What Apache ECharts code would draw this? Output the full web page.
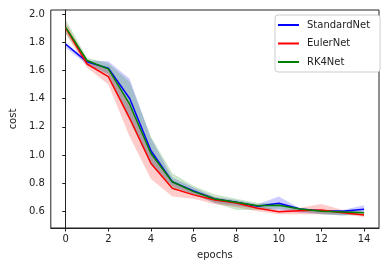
<!DOCTYPE html>
<html><head><meta charset="utf-8">
<script src="https://cdn.jsdelivr.net/npm/echarts@6/dist/echarts.min.js"></script>
<style>html,body{margin:0;padding:0;background:#fff}#c{width:389px;height:266px}</style>
</head><body><div id="c"></div>
<script>
const epochs = [0,1,2,3,4,5,6,7,8,9,10,11,12,13,14];
const xTicks = [0,2,4,6,8,10,12,14];
const yTicks = [0.6,0.8,1.0,1.2,1.4,1.6,1.8,2.0];

const stdMean = [1.785,1.66,1.615,1.40,1.03,0.81,0.745,0.688,0.665,0.637,0.658,0.617,0.605,0.60,0.615];
const stdLow  = [1.76,1.64,1.57,1.25,0.94,0.78,0.72,0.66,0.64,0.62,0.61,0.59,0.58,0.57,0.59];
const stdHigh = [1.80,1.67,1.665,1.54,1.12,0.84,0.77,0.70,0.68,0.65,0.705,0.62,0.61,0.61,0.644];

const eulMean = [1.90,1.645,1.555,1.26,0.94,0.764,0.717,0.68,0.66,0.622,0.598,0.605,0.61,0.59,0.575];
const eulLow  = [1.86,1.62,1.50,1.13,0.83,0.705,0.69,0.65,0.63,0.60,0.58,0.58,0.58,0.58,0.56];
const eulHigh = [1.94,1.67,1.60,1.36,1.02,0.81,0.75,0.70,0.67,0.64,0.61,0.625,0.653,0.61,0.59];

const rkMean = [1.905,1.67,1.61,1.36,1.01,0.81,0.74,0.688,0.665,0.64,0.644,0.617,0.60,0.595,0.59];
const rkLow  = [1.86,1.65,1.57,1.24,0.93,0.77,0.72,0.66,0.61,0.61,0.62,0.60,0.58,0.57,0.575];
const rkHigh = [1.96,1.69,1.65,1.52,1.13,0.87,0.78,0.72,0.69,0.66,0.66,0.62,0.61,0.61,0.60];

const names = ['StandardNet','EulerNet','RK4Net'];
const colors = ['#0000ff','#ff0000','#008000'];
const means = [stdMean, eulMean, rkMean];
const lows = [stdLow, eulLow, rkLow];
const highs = [stdHigh, eulHigh, rkHigh];

const series = [];
for (let k = 0; k < 3; k++) {
  const data = epochs.map((e,i)=>[e, lows[k][i], highs[k][i]]);
  series.push({
    type:'custom', silent:true, z:1, data: data,
    encode:{x:0, y:[1,2]},
    renderItem:(params, api)=>{
      if (params.dataIndex !== 0) return null;
      const up = data.map(d=>api.coord([d[0], d[2]]));
      const lo = data.map(d=>api.coord([d[0], d[1]])).reverse();
      return {type:'polygon', shape:{points: up.concat(lo)},
        style:{fill:colors[k], opacity:0.2}};
    }
  });
}
for (let k = 0; k < 3; k++) {
  series.push({
    name:names[k], type:'line', symbol:'none', z:5+k,
    lineStyle:{color:colors[k], width:1.5}, itemStyle:{color:colors[k]},
    data: epochs.map((e,i)=>[e, means[k][i]])
  });
}

const txt = '#222';
const chart = echarts.init(document.getElementById('c'), null, {renderer:'canvas'});
chart.setOption({
  animation:false,
  textStyle:{fontFamily:'DejaVu Sans'},
  grid:{left:44, right:10, top:10, bottom:38, show:true, borderColor:'#222', borderWidth:1},
  legend:{
    data:names, orient:'vertical', left:275, top:15, width:99,
    itemWidth:21, itemHeight:2, itemGap:8.5,
    icon:'rect',
    borderColor:'#ccc', borderWidth:1, borderRadius:3,
    padding:[5,10,5,3], backgroundColor:'#fff',
    textStyle:{fontSize:10, color:txt, fontFamily:'DejaVu Sans', padding:[0,0,0,3]}
  },
  xAxis:{
    type:'value', min:-0.7, max:14.7,
    name:'epochs', nameLocation:'middle', nameGap:22,
    nameTextStyle:{fontSize:10, color:txt},
    axisLine:{show:true, lineStyle:{color:'#222', width:1}},
    axisTick:{show:true, length:3.5, lineStyle:{color:'#222'}, customValues:xTicks},
    axisLabel:{fontSize:10, color:txt, margin:6, customValues:xTicks, formatter:v=>String(Math.round(v))},
    splitLine:{show:false}
  },
  yAxis:{
    type:'value', min:0.482, max:2.028,
    name:'cost', nameLocation:'middle', nameGap:28,
    nameTextStyle:{fontSize:10, color:txt},
    axisLine:{show:true, lineStyle:{color:'#222', width:1}},
    axisTick:{show:true, length:3.5, lineStyle:{color:'#222'}, customValues:yTicks},
    axisLabel:{fontSize:10, color:txt, margin:6, customValues:yTicks, formatter:v=>v.toFixed(1)},
    splitLine:{show:false}
  },
  series: series
});
</script></body></html>
